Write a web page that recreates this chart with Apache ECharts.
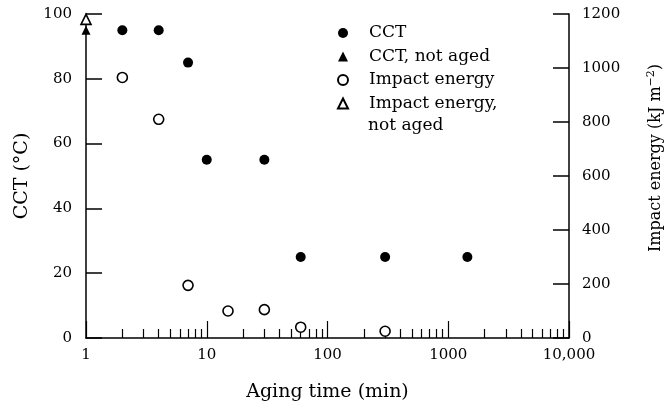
<!DOCTYPE html>
<html>
<head>
<meta charset="utf-8">
<script src="https://cdn.jsdelivr.net/npm/echarts@6/dist/echarts.min.js"></script>
<style>html,body{margin:0;padding:0;background:#fff}#c{width:668px;height:408px}</style>
</head>
<body>
<div id="c"></div>
<script>
// Data
const cctTime = [2, 4, 7, 10, 30, 60, 300, 1440];
const cctValue = [95, 95, 85, 55, 55, 25, 25, 25];
const impactTime = [2, 4, 7, 15, 30, 60, 300];
const impactValue = [965, 810, 195, 100, 105, 40, 25];
const notAgedTime = [1];
const cctNotAged = [95];
const impactNotAged = [1180];
// Axis ticks
const minorTicks = [2,3,4,5,6,7,8,9,20,30,40,50,60,70,80,90,200,300,400,500,600,700,800,900,2000,3000,4000,5000,6000,7000,8000,9000];
const seriesNames = ['CCT', 'CCT, not aged', 'Impact energy', 'Impact energy, not aged'];

const FONT = 'DejaVu Serif';
const pair = (xs, ys) => xs.map((x, i) => [x, ys[i]]);

const chart = echarts.init(document.getElementById('c'), null, {renderer: 'canvas'});
const axisLine = {show: true, lineStyle: {color: '#000', width: 1.5}};
chart.setOption({
  animation: false,
  backgroundColor: '#fff',
  textStyle: {fontFamily: FONT, color: '#000'},
  grid: {left: 86, right: 99, top: 14, bottom: 70, containLabel: false, outerBoundsMode: 'none'},
  legend: {
    orient: 'vertical', left: 337, top: 24.5, padding: 0,
    itemWidth: 10, itemHeight: 10, itemGap: 6.5,
    textStyle: {fontFamily: FONT, fontSize: 17, color: '#000', lineHeight: 17, padding: [0, 0, 0, 16]},
    formatter: n => n === 'Impact energy, not aged' ? 'Impact energy,' : n,
    data: seriesNames
  },
  graphic: [{type: 'text', left: 368, top: 117, style: {text: 'not aged', font: '17px "DejaVu Serif"', fill: '#000'}}],
  xAxis: [{
    type: 'log', logBase: 10, min: 1, max: 10000, position: 'bottom',
    name: 'Aging time (min)', nameLocation: 'middle', nameGap: 45,
    nameTextStyle: {fontFamily: FONT, fontSize: 19, color: '#000'},
    axisLine: axisLine,
    axisTick: {show: true, inside: true, length: 17, lineStyle: {color: '#000', width: 1.2}},
    axisLabel: {fontFamily: FONT, fontSize: 15, color: '#000', margin: 10,
      formatter: v => v === 10000 ? '10,000' : String(v)},
    splitLine: {show: false}
  }, {
    type: 'log', logBase: 10, min: 1, max: 10000, position: 'bottom',
    axisLine: {show: false},
    axisTick: {show: true, inside: true, length: 9, customValues: minorTicks, lineStyle: {color: '#000', width: 1.2}},
    axisLabel: {show: false},
    splitLine: {show: false}
  }],
  yAxis: [{
    type: 'value', min: 0, max: 100, interval: 20, position: 'left',
    name: 'CCT (°C)', nameLocation: 'middle', nameGap: 54, nameRotate: 90,
    nameTextStyle: {fontFamily: FONT, fontSize: 19, color: '#000'},
    axisLine: axisLine,
    axisTick: {show: true, inside: true, length: 16, lineStyle: {color: '#000', width: 1.5}},
    axisLabel: {fontFamily: FONT, fontSize: 15, color: '#000', margin: 14},
    splitLine: {show: false}
  }, {
    type: 'value', min: 0, max: 1200, interval: 200, position: 'right',
    name: '{a|Impact energy (kJ m}{s|−2}{a|)}', nameLocation: 'middle', nameGap: 77, nameRotate: 90,
    nameTextStyle: {fontFamily: FONT, fontSize: 16, color: '#000', padding: [0, 0, 0, 36],
      rich: {a: {fontFamily: FONT, fontSize: 16, color: '#000'},
             s: {fontFamily: FONT, fontSize: 11, color: '#000', padding: [0, 0, 9, 0]}}},
    axisLine: axisLine,
    axisTick: {show: true, inside: true, length: 16, lineStyle: {color: '#000', width: 1.5}},
    axisLabel: {fontFamily: FONT, fontSize: 15, color: '#000', margin: 13, formatter: v => String(v)},
    splitLine: {show: false}
  }],
  series: [{
    name: 'CCT', type: 'scatter', xAxisIndex: 0, yAxisIndex: 0,
    symbol: 'circle', symbolSize: 10, symbolKeepAspect: true, itemStyle: {color: '#000', opacity: 1},
    data: pair(cctTime, cctValue)
  }, {
    name: 'CCT, not aged', type: 'scatter', xAxisIndex: 0, yAxisIndex: 0,
    symbol: 'triangle', symbolSize: 9, symbolKeepAspect: true, itemStyle: {color: '#000', opacity: 1},
    data: pair(notAgedTime, cctNotAged)
  }, {
    name: 'Impact energy', type: 'scatter', xAxisIndex: 0, yAxisIndex: 1,
    symbol: 'circle', symbolSize: 10, symbolKeepAspect: true,
    itemStyle: {color: '#fff', borderColor: '#000', borderWidth: 1.6, opacity: 1},
    data: pair(impactTime, impactValue)
  }, {
    name: 'Impact energy, not aged', type: 'scatter', xAxisIndex: 0, yAxisIndex: 1,
    symbol: 'triangle', symbolSize: 10, symbolKeepAspect: true,
    itemStyle: {color: '#fff', borderColor: '#000', borderWidth: 1.6, opacity: 1},
    data: pair(notAgedTime, impactNotAged)
  }]
});
</script>
</body>
</html>
